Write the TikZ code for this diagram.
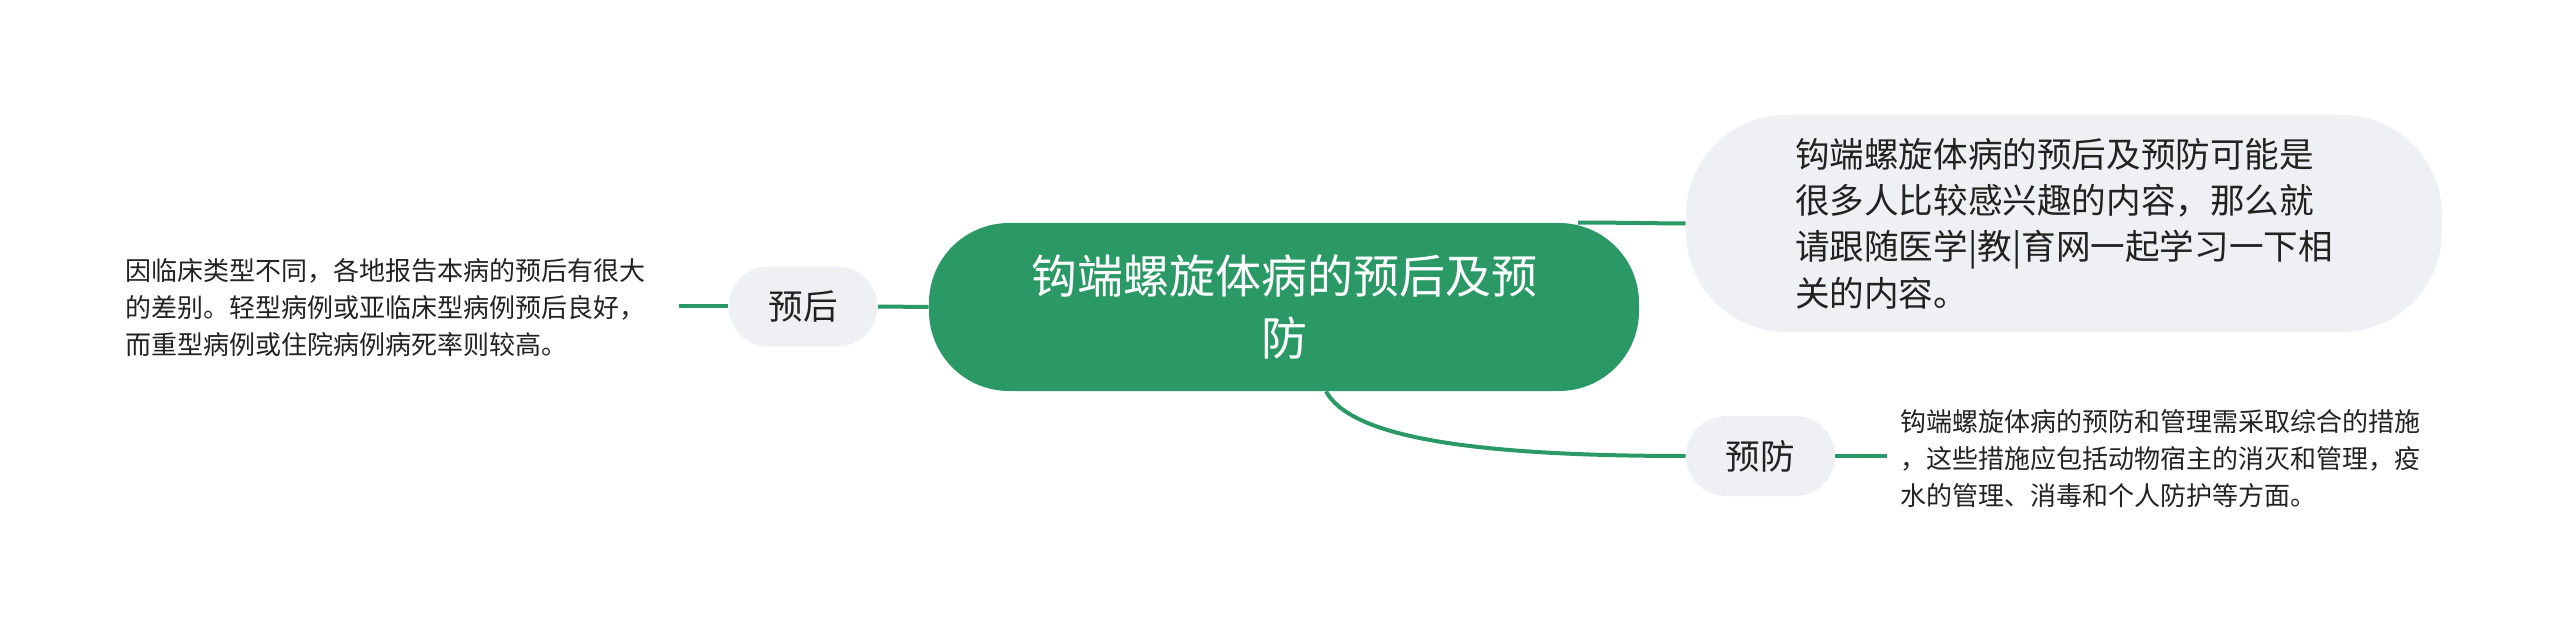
\documentclass[tikz,border=0pt]{standalone}
\usepackage{fontspec}
\newfontfamily\cjk{Noto Sans CJK SC}
\usetikzlibrary{calc}
\definecolor{mapgreen}{RGB}{43,153,102}
\definecolor{mapgrey}{RGB}{238,240,243}
\definecolor{mapink}{RGB}{34,34,34}

\begin{document}
\begin{tikzpicture}[x=0.5pt,y=-0.5pt,font=\cjk,
  root/.style={fill=mapgreen,text=white,rounded corners=40pt,minimum width=355pt,minimum height=84pt,inner sep=0pt,align=center,font=\cjk\fontsize{23}{31}\selectfont},
  topic/.style={fill=mapgrey,text=mapink,rounded corners=20pt,minimum width=74.5pt,minimum height=40pt,inner sep=0pt,font=\cjk\fontsize{17.3}{20}\selectfont},
  bubble/.style={fill=mapgrey,text=mapink,rounded corners=50pt,minimum width=378pt,minimum height=108.5pt,inner sep=0pt,align=left,font=\cjk\fontsize{17.3}{23.2}\selectfont},
  note/.style={text=mapink,align=left,text width=270pt,inner xsep=6.5pt,font=\cjk\fontsize{13}{18.5}\selectfont},
  link/.style={draw=mapgreen,line width=2pt}]
\useasboundingbox (0,0) rectangle (2560,636);
%root
\node[root] (main) at (1284,307) {钩端螺旋体病的预后及预\\防};
%summary bubble
\node[bubble] (intro) at (2064,223.5) {钩端螺旋体病的预后及预防可能是\\很多人比较感兴趣的内容，那么就\\请跟随医学|教|育网一起学习一下相\\关的内容。};
%topics
\node[topic] (yuhou) at (803,306.5) {预后};
\node[topic] (yufang) at (1760.5,456) {预防};
%notes
\node[note,anchor=east] (yuhounote) at (679,308) {因临床类型不同，各地报告本病的预后有很大\\的差别。轻型病例或亚临床型病例预后良好，\\而重型病例或住院病例病死率则较高。};
\node[note,anchor=west] (yufangnote) at (1887,459) {钩端螺旋体病的预防和管理需采取综合的措施\\，这些措施应包括动物宿主的消灭和管理，疫\\水的管理、消毒和个人防护等方面。};
%links
\draw[link] (main.west) -- (yuhou.east);
\draw[link] (yuhou.west) -- (yuhounote.east |- yuhou.west);
\draw[link] ([xshift=147pt]main.north) .. controls ([xshift=175pt]main.north) and ($(intro.west)+(-25,0)$) .. (intro.west);
\draw[link] ([xshift=21pt]main.south) .. controls (1350,435) and (1460,456) .. (yufang.west);
\draw[link] (yufang.east) -- (yufangnote.west |- yufang.east);
%
\end{tikzpicture}
\end{document}
